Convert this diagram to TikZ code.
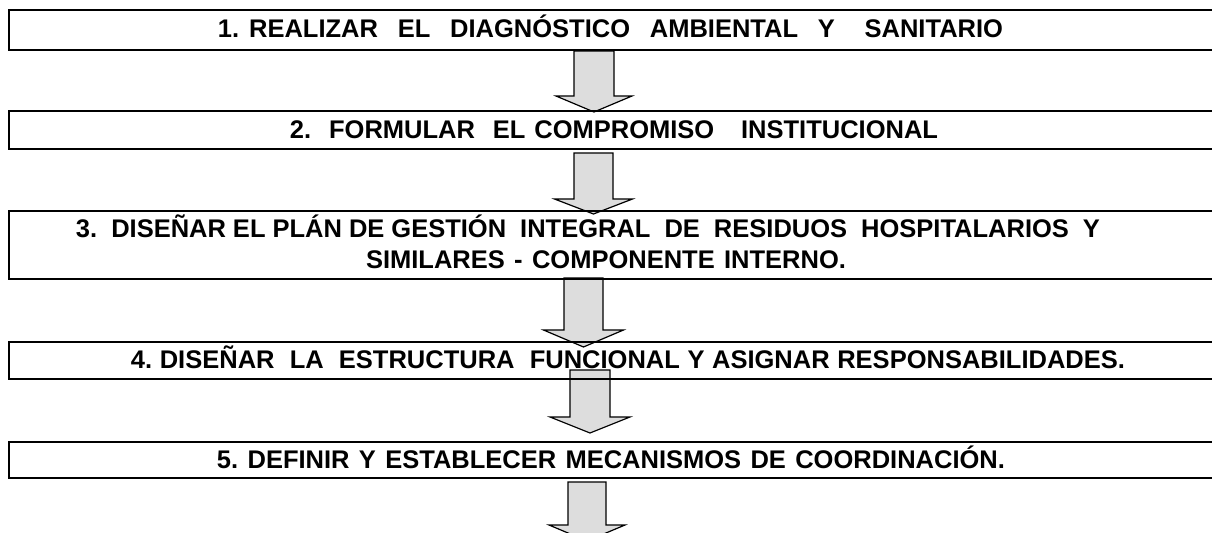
\documentclass[tikz,border=0pt]{standalone}
\usepackage{fontspec}
\setmainfont{Liberation Sans}
\frenchspacing
\definecolor{arrowgray}{RGB}{221,221,221}
\newcommand\blockarr[7]{% name, cx, ytop, yhead, ytip, shaft half, head half
  \coordinate (#1) at (#2,#5);
  \draw[blockarrow] (#2-#6,#3) -- (#2+#6,#3) -- (#2+#6,#4) -- (#2+#7,#4) -- (#1) -- (#2-#7,#4) -- (#2-#6,#4) -- cycle;}
\newcommand\spreadtext[2]{\makebox[#1bp][s]{#2}}
\begin{document}
\begin{tikzpicture}[x=1bp,y=-1bp,
  stepbox/.style={draw=black, line width=2bp, anchor=north west, minimum width=1206bp, inner sep=0pt},
  steptext/.style={inner sep=0pt, text height=18.3bp, text depth=0pt,
    font=\fontsize{25.5bp}{31bp}\selectfont\bfseries\frenchspacing},
  blockarrow/.style={draw=black, line width=1.2bp, fill=arrowgray, line join=miter}]
\useasboundingbox (0,0) rectangle (1212,533);
% arrows (behind the boxes)
\blockarr{a1}{594}{51}{96}{112}{20}{38}
\blockarr{a2}{593.5}{153}{199}{214}{19.5}{39}
\blockarr{a3}{583.5}{278}{330}{347}{19.5}{40}
\blockarr{a4}{590}{370}{417}{433}{20}{40}
\blockarr{a5}{587}{482}{525}{541}{19}{38}
% boxes
\node[stepbox, minimum height=39.5bp] (s1) at (8,9.5) {};
\node[stepbox, minimum height=38bp] (s2) at (8,110) {};
\node[stepbox, minimum height=68bp] (s3) at (8,210) {};
\node[stepbox, minimum height=37bp] (s4) at (8,341) {};
\node[stepbox, minimum height=36bp] (s5) at (8,441) {};
% texts
\node[steptext] (t1) at (610.5,28)
  {\spreadtext{785}{1. REALIZAR~ EL~ DIAGNÓSTICO~ AMBIENTAL~ Y~~ SANITARIO}};
\node[steptext] (t2) at (614,129)
  {\spreadtext{648}{2.~ FORMULAR~ EL COMPROMISO~~ INSTITUCIONAL}};
\node[steptext] (t3a) at (588,228)
  {\spreadtext{1024}{3.~ DISEÑAR EL PLÁN DE GESTIÓN~ INTEGRAL~ DE~ RESIDUOS~ HOSPITALARIOS~ Y}};
\node[steptext] (t3b) at (606,259)
  {\spreadtext{480}{SIMILARES - COMPONENTE INTERNO.}};
\node[steptext] (t4) at (628,359.5)
  {\spreadtext{994}{4. DISEÑAR~ LA~ ESTRUCTURA~ FUNCIONAL Y ASIGNAR RESPONSABILIDADES.}};
\node[steptext] (t5) at (611,459)
  {\spreadtext{788}{5. DEFINIR Y ESTABLECER MECANISMOS DE COORDINACIÓN.}};
\end{tikzpicture}
\end{document}
